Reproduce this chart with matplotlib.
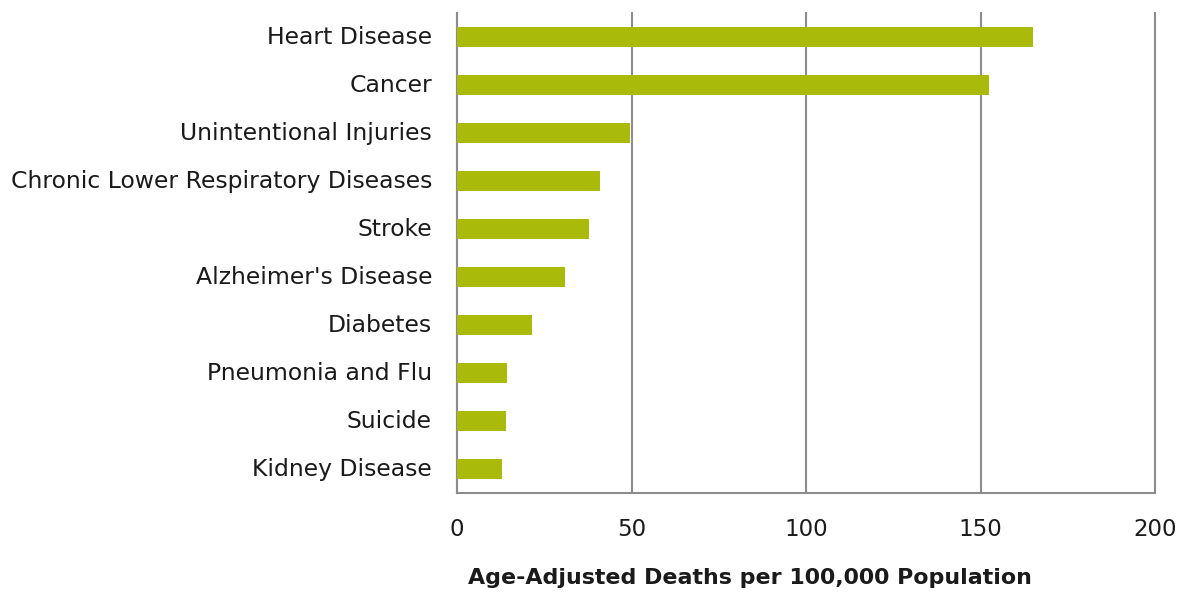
import matplotlib
matplotlib.use("Agg")
import matplotlib.pyplot as plt
import matplotlib.transforms as mtransforms

categories = ["Heart Disease", "Cancer", "Unintentional Injuries",
              "Chronic Lower Respiratory Diseases", "Stroke", "Alzheimer's Disease",
              "Diabetes", "Pneumonia and Flu", "Suicide", "Kidney Disease"]
values = [165.0, 152.5, 49.5, 40.9, 37.7, 31.0, 21.5, 14.3, 14.1, 13.0]
xticks = [0, 50, 100, 150, 200]
xlabel = "Age-Adjusted Deaths per 100,000 Population"

plt.rcParams['font.family'] = ['DejaVu Sans']

fig = plt.figure(figsize=(11.77, 5.94), dpi=100)
ax = fig.add_axes([457/1177, 1 - 493/594, (1155-457)/1177, (493-13)/594])

y = list(range(len(categories)))
ax.barh(y, values, height=0.4, color="#A9BA0A", zorder=3)
ax.set_ylim(len(categories) - 0.5, -0.5)
ax.set_xlim(0, 200)
ax.set_yticks(y)
ax.set_yticklabels(categories, fontsize=16.9, color="#1a1a1a")
ax.set_xticks(xticks)
ax.set_xticklabels([str(t) for t in xticks], fontsize=16.5, color="#1a1a1a")
ax.tick_params(axis='both', length=0)
ax.tick_params(axis='y', pad=18)
ax.tick_params(axis='x', pad=18)
offset = mtransforms.ScaledTranslation(0, 2/100, fig.dpi_scale_trans)
for lab in ax.get_yticklabels():
    lab.set_transform(lab.get_transform() + offset)
ax.grid(axis='x', color="#8c8c8c", linewidth=1.5, zorder=0)
for gl in ax.get_xgridlines():
    gl.set_clip_on(False)
for s in ['top', 'right']:
    ax.spines[s].set_visible(False)
for s in ['left', 'bottom']:
    ax.spines[s].set_color("#8c8c8c")
    ax.spines[s].set_linewidth(1.5)
fig.text(750/1177, 1 - 578/594, xlabel, fontsize=15.9, fontweight='bold',
         color="#1a1a1a", ha='center', va='center')

fig.savefig("out.png", dpi=100, facecolor="white")
